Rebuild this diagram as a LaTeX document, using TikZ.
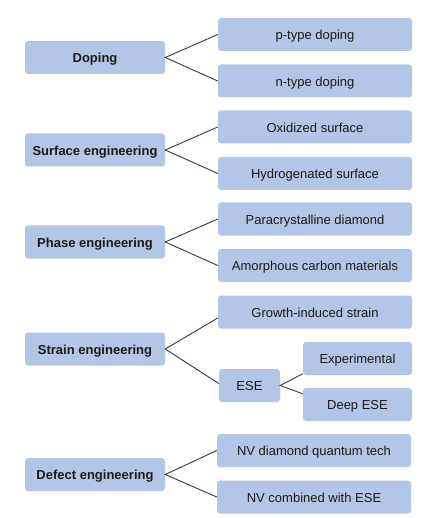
\documentclass[tikz,border=0pt]{standalone}
\usepackage{fontspec}
\setmainfont{Liberation Sans}
\definecolor{boxfill}{HTML}{B4C6E7}
\definecolor{linecol}{HTML}{2E3B57}
\definecolor{txt}{HTML}{1A1A1A}
\begin{document}
\begin{tikzpicture}[x=1pt,y=-1pt,
  base/.style={fill=boxfill,rounded corners=3pt,inner sep=0pt,text=txt,font=\fontsize{13}{15}\selectfont,anchor=center,text height=10.6pt,text depth=0.4pt},
  leftbox/.style={base,minimum width=140pt,minimum height=33pt,font=\fontsize{13}{15}\selectfont\bfseries},
  rightbox/.style={base,minimum width=194pt,minimum height=33pt},
  smallbox/.style={base,minimum width=61pt,minimum height=33pt},
  subbox/.style={base,minimum width=109pt,minimum height=33pt},
  conn/.style={draw=linecol,line width=0.9pt}]
\useasboundingbox[fill=white] (0,0) rectangle (440,518);
% left
\node[leftbox] (dop) at (95,57.5) {Doping};
\node[leftbox] (sur) at (95,150) {Surface engineering};
\node[leftbox] (pha) at (95,242) {Phase engineering};
\node[leftbox] (str) at (95,349) {Strain engineering};
\node[leftbox] (def) at (95,474.5) {Defect engineering};
% right
\node[rightbox] (p) at (315,34.5) {p-type doping};
\node[rightbox] (n) at (315,81) {n-type doping};
\node[rightbox] (ox) at (315,127) {Oxidized surface};
\node[rightbox] (hy) at (315,173.5) {Hydrogenated surface};
\node[rightbox] (pc) at (315,219) {Paracrystalline diamond};
\node[rightbox] (am) at (315,265.5) {Amorphous carbon materials};
\node[rightbox] (gr) at (315,312) {Growth-induced strain};
\node[smallbox] (ese) at (249.5,385.5) {ESE};
\node[subbox] (exp) at (357.5,358.5) {Experimental};
\node[subbox] (deep) at (357.5,404.5) {Deep ESE};
\node[rightbox] (nvd) at (314,450.5) {NV diamond quantum tech};
\node[rightbox] (nvc) at (314,497) {NV combined with ESE};
% connectors
\draw[conn] (p.west) -- (dop.east) -- (n.west);
\draw[conn] (ox.west) -- (sur.east) -- (hy.west);
\draw[conn] (pc.west) -- (pha.east) -- (am.west);
\draw[conn] ([yshift=-6pt]gr.west) -- (str.east) -- ([yshift=2pt]ese.west);
\draw[conn] ([yshift=1.5pt]exp.south west) -- (ese.east) -- ([yshift=-6pt]deep.north west);
\draw[conn] (nvd.west) -- (def.east) -- (nvc.west);
\end{tikzpicture}
\end{document}
